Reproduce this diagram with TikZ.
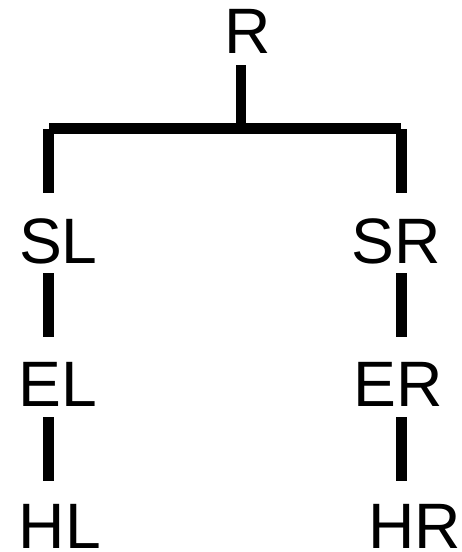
\documentclass[tikz,border=0pt]{standalone}
\usepackage{fontspec}
\setmainfont{Liberation Sans}
\usetikzlibrary{calc}
\begin{document}
\begin{tikzpicture}[x=1pt,y=-1pt,
  label/.style={anchor=base,inner sep=0pt,font=\fontsize{64.2}{66}\selectfont},
  link/.style={line width=10.7pt,line cap=butt}]
  \useasboundingbox (0,0) rectangle (461,552);
  % labels
  \node[label] (R)  at (247.5,53.3)  {R};
  \node[label] (SL) at (58.3,263.3)  {SL};
  \node[label] (SR) at (396.5,263.3) {SR};
  \node[label] (EL) at (58,406)      {EL};
  \node[label] (ER) at (398,406)     {ER};
  \node[label] (HL) at (59.8,548.3)  {HL};
  \node[label] (HR) at (415,548.3)   {HR};
  % bracket joining R to both branches
  \coordinate (hub) at (241,128.7);
  \coordinate (bl) at (49,128.7);
  \coordinate (br) at (400.7,128.7);
  \draw[link] ($(R.base)+(-6.5,11.7)$) -- (hub);
  \draw[link] (bl) -- (br);
  \draw[link] (48.8,129) -- ($(SL.base)+(-9.5,-70.3)$);
  \draw[link] (401.2,129) -- ($(SR.base)+(4.7,-70.3)$);
  % chains down each side
  \draw[link] ($(SL.base)+(-9.8,9.7)$) -- ($(EL.base)+(-9.5,-69)$);
  \draw[link] ($(EL.base)+(-9.5,11)$) -- ($(HL.base)+(-11.3,-67.3)$);
  \draw[link] ($(SR.base)+(5,9.7)$) -- ($(ER.base)+(3.5,-69)$);
  \draw[link] ($(ER.base)+(3.5,11)$) -- ($(HR.base)+(-13.5,-67.3)$);
\end{tikzpicture}
\end{document}
